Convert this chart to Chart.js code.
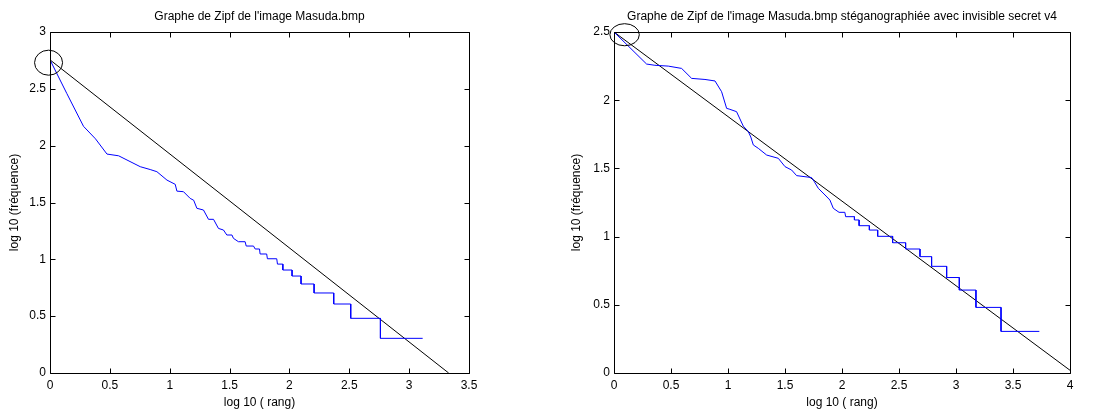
<!DOCTYPE html>
<html>
<head>
<meta charset="utf-8">
<script src="https://cdn.jsdelivr.net/npm/chart.js@4"></script>
<style>
  body { margin: 0; background: #fff; }
  canvas { position: absolute; top: 0; }
  #left { left: 0; }
  #right { left: 559px; }
</style>
</head>
<body>
<canvas id="left" width="559" height="412"></canvas>
<canvas id="right" width="559" height="412"></canvas>
<script>
// graphe 1 : image originale
const title1 = "Graphe de Zipf de l'image Masuda.bmp"
const zipf1X = [0, 0.14, 0.28, 0.38, 0.476, 0.573, 0.754, 0.837, 0.893, 0.977, 1.046, 1.06, 1.115, 1.171, 1.2,
    1.227, 1.282, 1.324, 1.366, 1.407, 1.449, 1.477, 1.52, 1.532, 1.574, 1.63, 1.639, 1.70, 1.714, 1.75,
    1.755, 1.81, 1.816, 1.894, 1.9, 1.945, 1.945, 2.022, 2.022, 2.097, 2.097, 2.206, 2.206, 2.37, 2.37,
    2.512, 2.512, 2.76, 2.76, 3.113]
const zipf1Y = [2.755, 2.46, 2.17, 2.06, 1.926, 1.911, 1.815, 1.79, 1.771, 1.697, 1.66, 1.6, 1.595, 1.536, 1.52,
    1.449, 1.434, 1.352, 1.352, 1.272, 1.258, 1.214, 1.214, 1.185, 1.155, 1.155, 1.117, 1.117, 1.091, 1.091,
    1.047, 1.047, 1.005, 1.005, 0.958, 0.958, 0.906, 0.906, 0.853, 0.853, 0.783, 0.783, 0.704, 0.704, 0.607,
    0.607, 0.481, 0.481, 0.305, 0.305]
const fit1X = [0, 3.33]
const fit1Y = [2.755, 0]
const circle1 = [-0.012, 2.73, 0.117, 0.11]   // centre x, centre y, rayon x, rayon y

// graphe 2 : image stéganographiée
const title2 = "Graphe de Zipf de l'image Masuda.bmp stéganographiée avec invisible secret v4"
const zipf2X = [0, 0.286, 0.359, 0.476, 0.593, 0.681, 0.798, 0.886, 0.944, 0.988, 1.01, 1.075, 1.134, 1.178, 1.2,
    1.222, 1.266, 1.339, 1.441, 1.5, 1.558, 1.602, 1.733, 1.757, 1.792, 1.851, 1.894, 1.924, 1.974, 2.025,
    2.032, 2.109, 2.109, 2.15, 2.15, 2.24, 2.24, 2.313, 2.313, 2.444, 2.444, 2.558, 2.558, 2.684, 2.684,
    2.786, 2.786, 2.918, 2.918, 3.029, 3.029, 3.175, 3.175, 3.395, 3.395, 3.731]
const zipf2Y = [2.5, 2.265, 2.256, 2.25, 2.233, 2.16, 2.152, 2.141, 2.062, 1.94, 1.935, 1.916, 1.81, 1.77, 1.73,
    1.672, 1.647, 1.598, 1.574, 1.513, 1.488, 1.447, 1.433, 1.403, 1.354, 1.305, 1.268, 1.207, 1.178, 1.178,
    1.146, 1.146, 1.122, 1.122, 1.08, 1.08, 1.048, 1.048, 1.002, 1.002, 0.955, 0.955, 0.909, 0.909, 0.853,
    0.853, 0.782, 0.782, 0.70, 0.70, 0.608, 0.608, 0.481, 0.481, 0.305, 0.305]
const fit2X = [0, 4]
const fit2Y = [2.5, 0.02]
const circle2 = [0.093, 2.48, 0.129, 0.081]

const xLabel = 'log 10 ( rang)'
const yLabel = 'log 10 (fréquence)'

const FONT = "'Liberation Sans', Arial, sans-serif"

function map2(func, arr1, arr2) {
    return arr1.map((value, index) => func(value, arr2[index], index))
}

// cadre façon matlab : boite, graduations vers l'intérieur, titre et ellipse
const matlabPlugin = {
    id: 'matlab',
    afterDraw(chart, args, opts) {
        const ctx = chart.ctx
        const a = chart.chartArea
        const x = chart.scales.x
        const y = chart.scales.y
        ctx.save()
        ctx.strokeStyle = '#000'
        ctx.lineWidth = 1
        ctx.beginPath()
        const l = Math.round(a.left) + 0.5, r = Math.round(a.right) + 0.5
        const t = Math.round(a.top) + 0.5, b = Math.round(a.bottom) + 0.5
        ctx.rect(l, t, r - l, b - t)
        x.ticks.forEach(tk => {
            const px = Math.round(x.getPixelForValue(tk.value)) + 0.5
            ctx.moveTo(px, b); ctx.lineTo(px, b - 5)
            ctx.moveTo(px, t); ctx.lineTo(px, t + 5)
        })
        y.ticks.forEach(tk => {
            const py = Math.round(y.getPixelForValue(tk.value)) + 0.5
            ctx.moveTo(l, py); ctx.lineTo(l + 5, py)
            ctx.moveTo(r, py); ctx.lineTo(r - 5, py)
        })
        ctx.stroke()

        const c = opts.circle
        const cx = x.getPixelForValue(c[0]), cy = y.getPixelForValue(c[1])
        const rx = Math.abs(x.getPixelForValue(c[0] + c[2]) - cx)
        const ry = Math.abs(y.getPixelForValue(c[1] + c[3]) - cy)
        ctx.beginPath()
        ctx.ellipse(cx, cy, rx, ry, 0, 0, 2 * Math.PI)
        ctx.stroke()

        ctx.fillStyle = '#000'
        ctx.font = '12px ' + FONT
        ctx.textAlign = 'center'
        ctx.textBaseline = 'middle'
        ctx.fillText(opts.title, (a.left + a.right) / 2, 17)
        ctx.restore()
    }
}

function make_chart(id, lineX, lineY, fitX, fitY, xMax, yMax, yWidth, padRight, yTitlePad, title, circle) {
    const ctx = document.getElementById(id).getContext('2d')
    const tickFmt = v => String(+v.toFixed(2))
    return new Chart(ctx, {
        type: 'scatter',
        data: {
            datasets: [{
                data: map2((a, b) => ({x: a, y: b}), lineX, lineY),
                showLine: true,
                borderColor: '#0000ff',
                borderWidth: 1,
                pointRadius: 0,
                tension: 0
            }, {
                data: map2((a, b) => ({x: a, y: b}), fitX, fitY),
                showLine: true,
                borderColor: '#000000',
                borderWidth: 1,
                pointRadius: 0,
                tension: 0
            }]
        },
        options: {
            responsive: false,
            animation: false,
            layout: {padding: {left: 0, right: padRight, top: 32, bottom: 0}},
            plugins: {
                legend: {display: false},
                tooltip: {enabled: false},
                title: {display: false},
                matlab: {title: title, circle: circle}
            },
            scales: {
                x: {
                    type: 'linear',
                    min: 0,
                    max: xMax,
                    grid: {display: false, drawTicks: false},
                    border: {display: false},
                    ticks: {stepSize: 0.5, padding: 5, color: '#000', font: {family: FONT, size: 12}, callback: tickFmt, maxRotation: 0},
                    title: {display: true, text: xLabel, color: '#000', font: {family: FONT, size: 12}, padding: {top: 0, bottom: 2}},
                    afterFit: s => { s.height = 39 }
                },
                y: {
                    type: 'linear',
                    min: 0,
                    max: yMax,
                    grid: {display: false, drawTicks: false},
                    border: {display: false},
                    ticks: {stepSize: 0.5, padding: 4, color: '#000', font: {family: FONT, size: 12}, callback: tickFmt},
                    title: {display: true, text: yLabel, color: '#000', font: {family: FONT, size: 12}, padding: {top: yTitlePad, bottom: 0}},
                    afterFit: s => { s.width = yWidth }
                }
            }
        },
        plugins: [matlabPlugin]
    })
}

window.onload = main

function main() {
    make_chart('left', zipf1X, zipf1Y, fit1X, fit1Y, 3.5, 3, 50, 90, 7, title1, circle1)
    make_chart('right', zipf2X, zipf2Y, fit2X, fit2Y, 4, 2.5, 55, 48, 10, title2, circle2)
}
</script>
</body>
</html>
